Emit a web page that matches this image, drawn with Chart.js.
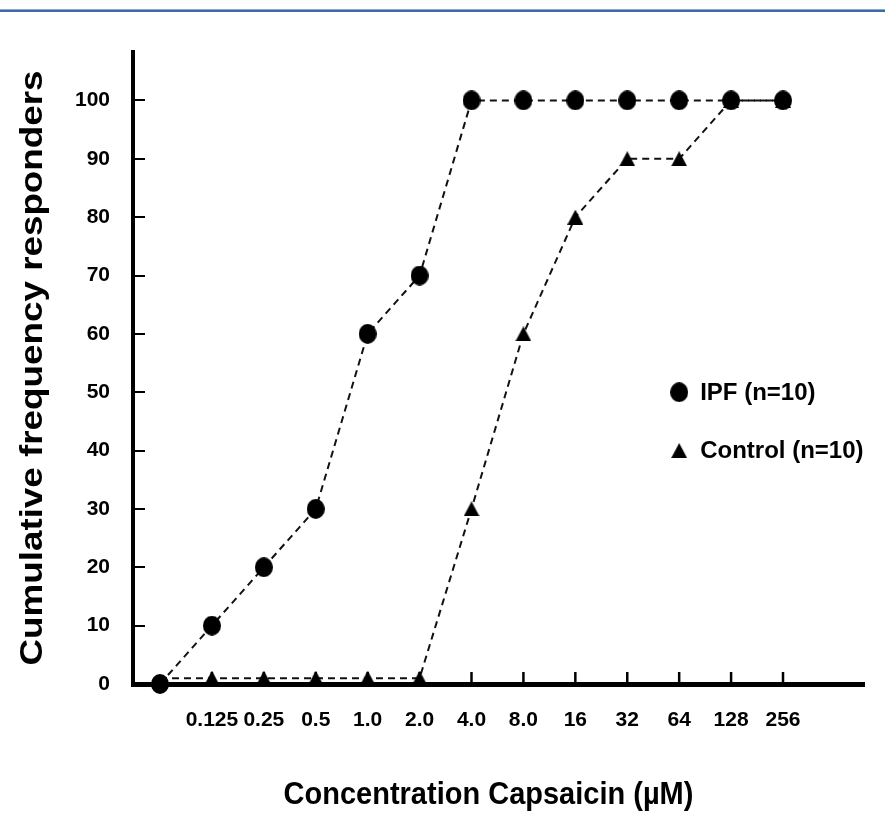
<!DOCTYPE html>
<html>
<head>
<meta charset="utf-8">
<script src="https://cdn.jsdelivr.net/npm/chart.js@4.4.1/dist/chart.umd.min.js"></script>
<style>
html,body{margin:0;padding:0;background:#fff;}
#wrap{position:relative;width:885px;height:824px;}
#topline{position:absolute;left:0;top:9px;width:885px;height:1px;background:#8aa6d0;}
#topline2{position:absolute;left:0;top:10px;width:885px;height:2px;background:#3f6aa6;}
</style>
</head>
<body>
<div id="wrap">
<canvas id="c" width="885" height="824"></canvas>
<div id="topline"></div><div id="topline2"></div>
</div>
<script>
// ---- data ----
const concLabels = ['0.125','0.25','0.5','1.0','2.0','4.0','8.0','16','32','64','128','256'];
const ipfValues = [0, 10, 20, 30, 60, 70, 100, 100, 100, 100, 100, 100, 100];
const controlValues = [1, 1, 1, 1, 1, 1, 30, 60, 80, 90, 90, 100, 100];
const yTickValues = [0, 10, 20, 30, 40, 50, 60, 70, 80, 90, 100];
const seriesNames = ['IPF (n=10)', 'Control (n=10)'];
const xTitle = 'Concentration Capsaicin (\u00B5M)';
const yTitle = 'Cumulative frequency responders';

const FONT = "'Liberation Sans', Arial, Helvetica, sans-serif";
Chart.defaults.font.family = FONT;
Chart.defaults.color = '#000';

function ellipseCanvas(w, h) {
  const c = document.createElement('canvas');
  c.width = w; c.height = h;
  const g = c.getContext('2d');
  g.fillStyle = '#000';
  g.beginPath();
  g.ellipse(w / 2, h / 2, w / 2, h / 2, 0, 0, Math.PI * 2);
  g.fill();
  return c;
}
function triangleCanvas(w, h) {
  const c = document.createElement('canvas');
  c.width = w; c.height = h;
  const g = c.getContext('2d');
  g.fillStyle = '#000';
  g.beginPath();
  g.moveTo(w / 2, 0);
  g.lineTo(w, h);
  g.lineTo(0, h);
  g.closePath();
  g.fill();
  return c;
}
const circleImg = ellipseCanvas(18, 20);
const triImg = triangleCanvas(16, 15);
const markerImgs = [circleImg, triImg];

// legend anchored in data coordinates (layout constants)
const legendAnchorX = 10;
const legendAnchorY = [50, 40];

const decor = {
  id: 'decor',
  beforeDatasetsDraw(chart) {
    const { ctx, chartArea: a, scales: { x, y } } = chart;
    ctx.save();
    ctx.strokeStyle = '#000';
    ctx.lineWidth = 2;
    y.ticks.forEach(t => {
      const py = Math.round(y.getPixelForValue(t.value));
      ctx.beginPath(); ctx.moveTo(a.left, py); ctx.lineTo(a.left + 12, py); ctx.stroke();
    });
    ctx.lineWidth = 2.5;
    x.ticks.forEach(t => {
      const px = x.getPixelForValue(t.value);
      ctx.beginPath(); ctx.moveTo(px, a.bottom); ctx.lineTo(px, a.bottom - 12); ctx.stroke();
    });
    ctx.restore();
  },
  afterDraw(chart) {
    const { ctx, chartArea: a, scales: { x, y } } = chart;
    ctx.save();
    ctx.fillStyle = '#000';
    // y title
    ctx.save();
    ctx.translate(33, (a.top + a.bottom) / 2);
    ctx.rotate(-Math.PI / 2);
    ctx.scale(1.15, 1);
    ctx.font = 'bold 32px ' + FONT;
    ctx.textAlign = 'center';
    ctx.textBaseline = 'middle';
    ctx.fillText(yTitle, 0, 0);
    ctx.restore();
    // x title
    ctx.save();
    ctx.translate((a.left + a.right) / 2 - 10, 795);
    ctx.scale(1, 1.1);
    ctx.font = 'bold 29px ' + FONT;
    ctx.textAlign = 'center';
    ctx.textBaseline = 'middle';
    ctx.fillText(xTitle, 0, 0);
    ctx.restore();
    // legend
    seriesNames.forEach((name, i) => {
      const px = x.getPixelForValue(legendAnchorX);
      const py = y.getPixelForValue(legendAnchorY[i]);
      const img = markerImgs[i];
      ctx.drawImage(img, px - img.width / 2, py - img.height / 2);
      ctx.font = 'bold 24px ' + FONT;
      ctx.textAlign = 'left';
      ctx.textBaseline = 'middle';
      ctx.fillText(name, px + 21, py + 1);
    });
    ctx.restore();
  }
};

new Chart(document.getElementById('c'), {
  type: 'line',
  data: {
    datasets: [
      {
        label: seriesNames[0],
        data: ipfValues.map((v, i) => ({ x: i, y: v })),
        borderColor: '#111',
        borderWidth: 2,
        borderDash: [7, 5],
        pointStyle: circleImg,
        pointRadius: 9,
        tension: 0,
        clip: false
      },
      {
        label: seriesNames[1],
        data: controlValues.map((v, i) => ({ x: i, y: v })),
        borderColor: '#111',
        borderWidth: 2,
        borderDash: [7, 5],
        pointStyle: triImg,
        pointRadius: c => (c.dataIndex === 0 ? 0 : 9),
        tension: 0,
        clip: false
      }
    ]
  },
  options: {
    responsive: false,
    animation: false,
    devicePixelRatio: 1,
    layout: { padding: { top: 52, right: 21, left: 0, bottom: 0 } },
    plugins: { legend: { display: false }, tooltip: { enabled: false } },
    scales: {
      x: {
        type: 'linear',
        min: -0.52,
        max: 13.56,
        grid: { display: false, drawTicks: false },
        border: { display: true, width: 5, color: '#000' },
        afterBuildTicks: s => { s.ticks = concLabels.map((_, i) => ({ value: i + 1 })); },
        afterFit: s => { s.height = 140; },
        ticks: {
          autoSkip: false,
          maxRotation: 0,
          padding: 24,
          color: '#000',
          font: { size: 21, weight: 'bold' },
          callback: v => concLabels[v - 1]
        }
      },
      y: {
        min: 0,
        max: 108.3,
        grid: { display: false, drawTicks: false },
        border: { display: true, width: 4, color: '#000' },
        afterBuildTicks: s => { s.ticks = yTickValues.map(v => ({ value: v })); },
        afterFit: s => { s.width = 133; },
        ticks: {
          padding: 23,
          color: '#000',
          font: { size: 21, weight: 'bold' },
          callback: v => String(v)
        }
      }
    }
  },
  plugins: [decor]
});
</script>
</body>
</html>
